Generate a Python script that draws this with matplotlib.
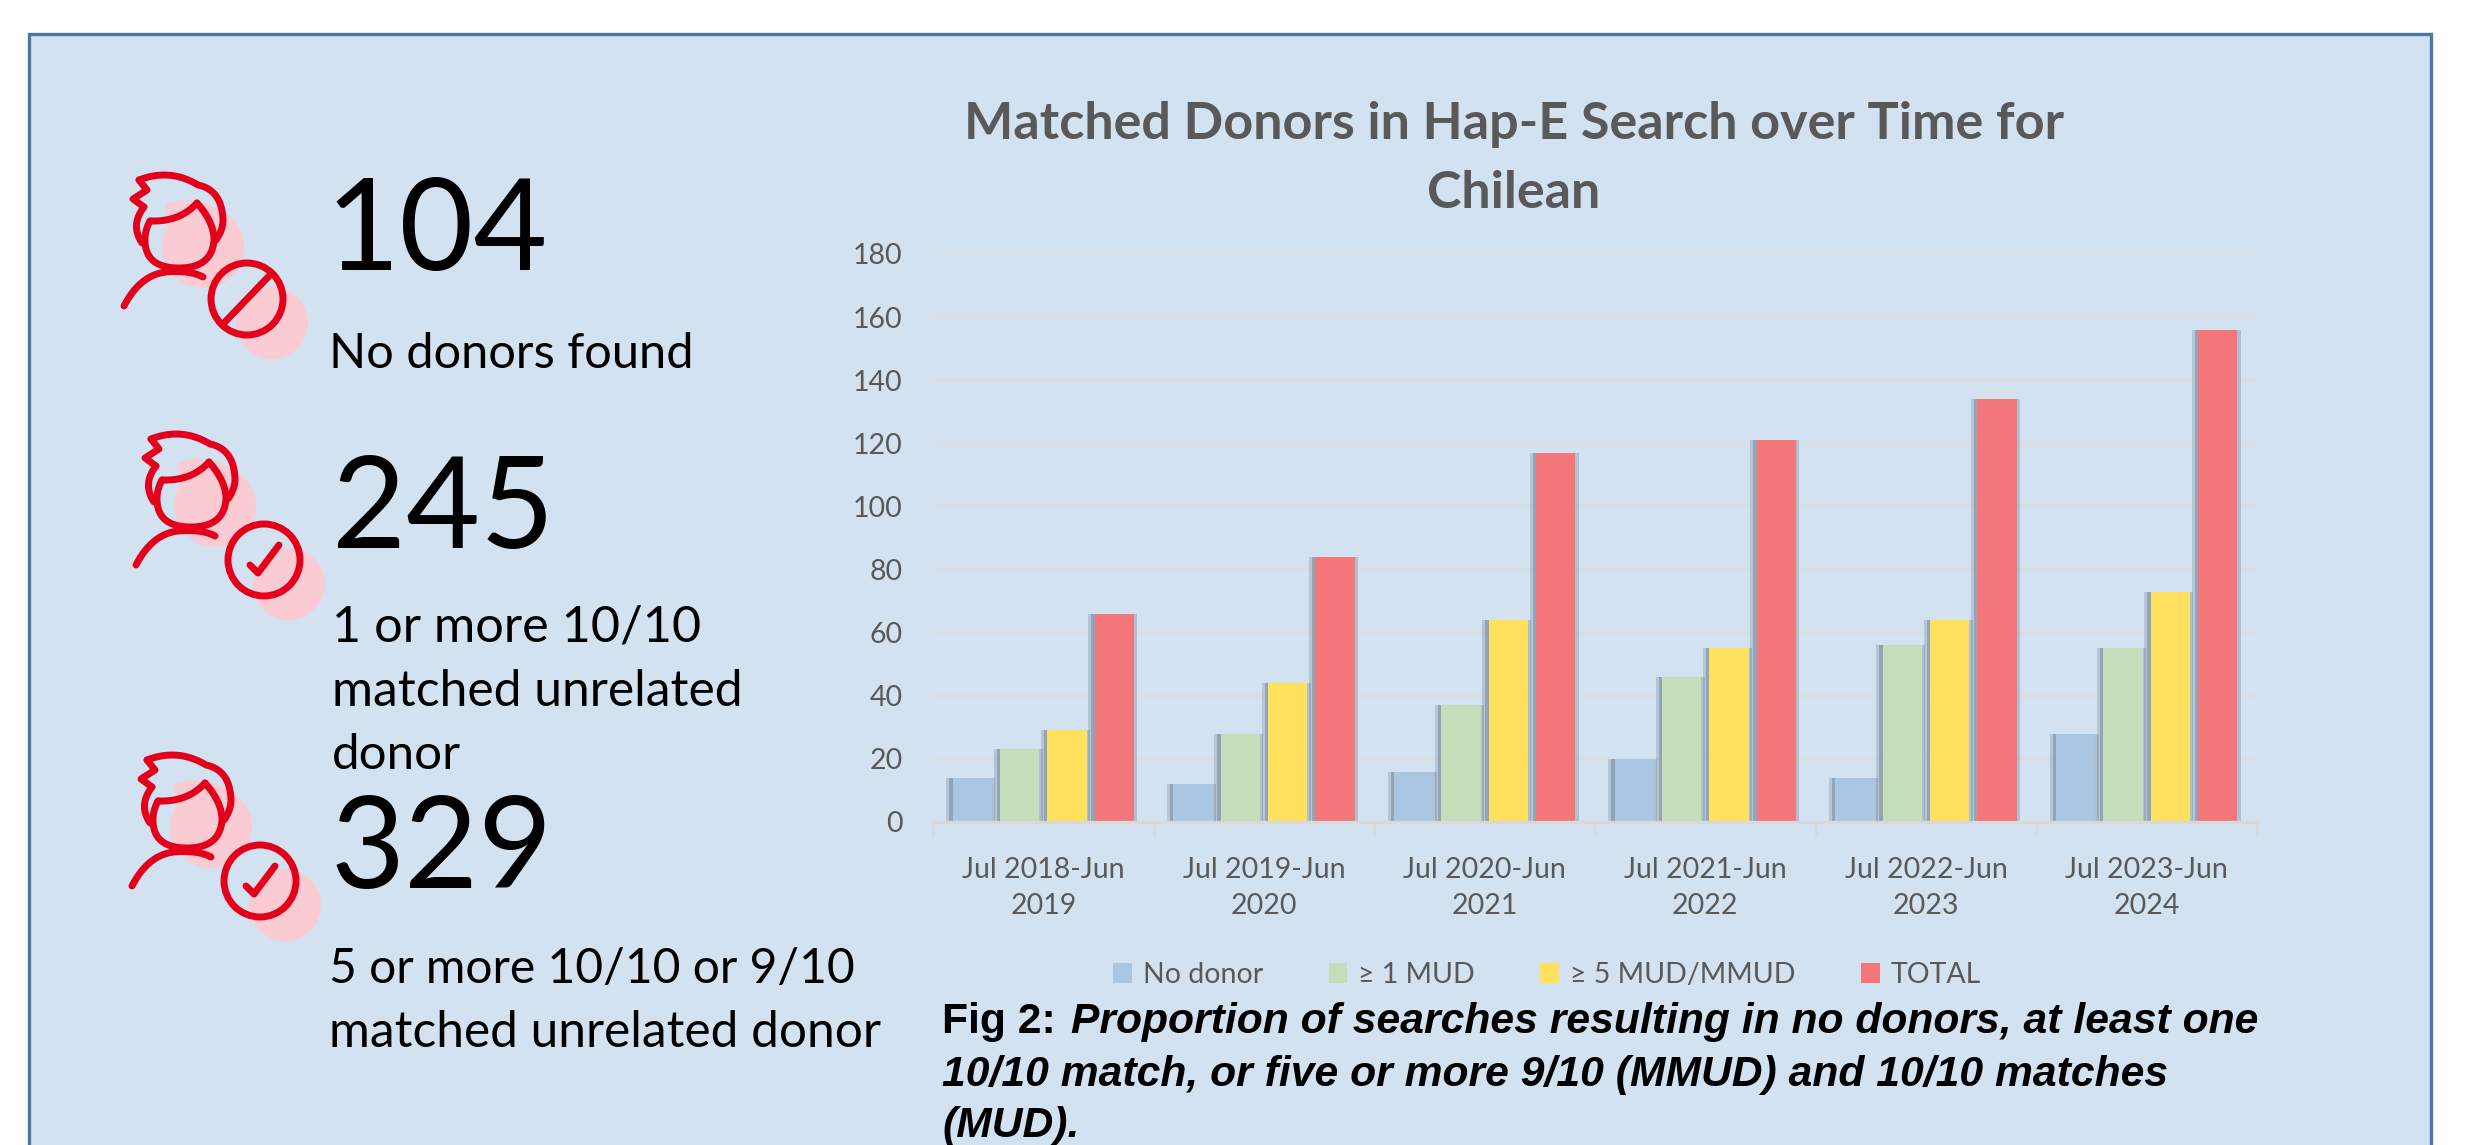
import matplotlib
matplotlib.use("Agg")
import matplotlib.pyplot as plt
import matplotlib.patheffects as pe
from matplotlib.patches import Circle, Rectangle, Polygon
import numpy as np

W, H = 2474, 1145

# ---- data ----
categories = ["Jul 2018-Jun\n2019", "Jul 2019-Jun\n2020", "Jul 2020-Jun\n2021",
              "Jul 2021-Jun\n2022", "Jul 2022-Jun\n2023", "Jul 2023-Jun\n2024"]
no_donor = [14, 12, 16, 20, 14, 28]
one_mud = [23, 28, 37, 46, 56, 55]
five_mud = [29, 44, 64, 55, 64, 73]
total = [66, 84, 117, 121, 134, 156]
series_names = ["No donor", "\u2265 1 MUD", "\u2265 5 MUD/MMUD", "TOTAL"]
series_colors = ["#A9C6E3", "#C4DEBA", "#FFE15D", "#F3767B"]
yticks = list(range(0, 181, 20))

BG = "#D3E2F1"
RED = "#E3001B"
PINK = "#FACBD2"
GREY = "#595959"
FONT = "Lato"

fig = plt.figure(figsize=(W / 100, H / 100), dpi=100, facecolor="white")

ov = fig.add_axes([0, 0, 1, 1], zorder=0)
ov.set_xlim(0, W)
ov.set_ylim(H, 0)
ov.axis("off")
ov.add_patch(Rectangle((29, 34), 2402, 1200, fc=BG, ec="#4A76A8", lw=2.4))

LW = 5.0


def stroke(ax, pts):
    xs, ys = zip(*pts)
    ax.plot(xs, ys, color=RED, lw=LW, solid_capstyle="round", solid_joinstyle="round", zorder=5)


def curve(p0, c, p1, n=24):
    t = np.linspace(0, 1, n)[:, None]
    p0, c, p1 = map(np.array, (p0, c, p1))
    return [tuple(v) for v in (1 - t) ** 2 * p0 + 2 * t * (1 - t) * c + t ** 2 * p1]


def icon(ax, dx, dy, bx, by, kind):
    def T(pts):
        return [(x + dx, y + dy) for x, y in pts]
    ax.add_patch(Circle((203 + dx, 247 + dy), 41, fc=PINK, ec="none", zorder=2))
    ax.add_patch(Polygon(T([(165, 204), (183, 200), (207, 203), (223, 213), (203, 230), (170, 227)]),
                         fc=PINK, ec="none", zorder=2))
    ax.add_patch(Circle((272 + bx, 323 + by), 36, fc=PINK, ec="none", zorder=2))
    hair = curve((139, 180), (170, 168), (198, 185))
    hair += curve((198, 185), (222, 190), (223, 220))[1:]
    hair += curve((223, 220), (223, 230), (216, 240))[1:]
    stroke(ax, T(hair))
    stroke(ax, T([(139, 180), (147, 190), (133, 199), (144, 207)]))
    stroke(ax, T(curve((144, 207), (130, 225), (142, 243))))
    stroke(ax, T(curve((150, 221), (180, 222), (197, 203))))
    face = curve((197, 203), (214, 222), (214, 240))
    face += curve((214, 240), (212, 268), (179, 268))[1:]
    face += curve((179, 268), (145, 268), (145, 240))[1:]
    face += curve((145, 240), (145, 230), (150, 221))[1:]
    stroke(ax, T(face))
    stroke(ax, T(curve((124, 306), (140, 275), (166, 272)) + curve((166, 272), (190, 270), (203, 277))[1:]))
    cx, cy = 247 + bx, 299 + by
    ax.add_patch(Circle((cx, cy), 36, fc="none", ec=RED, lw=LW, zorder=6))
    if kind == "no":
        stroke(ax, [(cx - 24, cy + 25), (cx + 24, cy - 25)])
    else:
        stroke(ax, [(cx - 14, cy + 5), (cx - 6, cy + 13), (cx + 15, cy - 15)])


icon(ov, 0, 0, 0, 0, "no")
icon(ov, 12, 259, 17, 261, "check")
icon(ov, 8, 580, 13, 582, "check")

BIG = 92
ov.text(326, 234, "104", fontsize=BIG, family=FONT, color="black", va="center", ha="left")
ov.text(329, 354, "No donors found", fontsize=35.1, family=FONT, color="black", va="center")
ov.text(332, 512, "245", fontsize=BIG, family=FONT, color="black", va="center", ha="left")
ov.text(332, 628, "1 or more 10/10", fontsize=36.3, family=FONT, color="black", va="center")
ov.text(332, 692, "matched unrelated", fontsize=35.8, family=FONT, color="black", va="center")
ov.text(332, 755, "donor", fontsize=35.5, family=FONT, color="black", va="center")
ov.text(331, 852, "329", fontsize=BIG, family=FONT, color="black", va="center", ha="left")
ov.text(329, 969, "5 or more 10/10 or 9/10", fontsize=34.6, family=FONT, color="black", va="center")
ov.text(329, 1033, "matched unrelated donor", fontsize=35.7, family=FONT, color="black", va="center")

ov.text(1514, 125, "Matched Donors in Hap-E Search over Time for", fontsize=37.5, family=FONT,
        weight="bold", color=GREY, ha="center", va="center")
ov.text(1514, 193, "Chilean", fontsize=37.5, family=FONT, weight="bold", color=GREY, ha="center", va="center")

cap_kw = dict(fontsize=30.7, family="Liberation Sans", weight="bold", color="black", va="center")
ov.text(942, 1022, "Fig 2: ", **cap_kw)
ov.text(1071, 1022, "Proportion of searches resulting in no donors, at least one", style="italic", **cap_kw)
ov.text(942, 1075, "10/10 match, or five or more 9/10 (MMUD) and 10/10 matches", style="italic", **cap_kw)
ov.text(942, 1126, "(MUD).", style="italic", **cap_kw)

# ---- bar chart ----
L, R, T, B = 933, 2257, 254, 822
ax = fig.add_axes([L / W, 1 - B / H, (R - L) / W, (B - T) / H], zorder=1)
ax.patch.set_alpha(0)
x = np.arange(len(categories))
bw = 0.1775
step = 0.2145
shadow = [pe.SimplePatchShadow(offset=(-4.5, 0), shadow_rgbFace="#5F7388", alpha=0.25),
          pe.SimplePatchShadow(offset=(-2.5, 0), shadow_rgbFace="#5F7388", alpha=0.40),
          pe.SimplePatchShadow(offset=(2.5, 0), shadow_rgbFace="#5F7388", alpha=0.30),
          pe.Normal()]
handles = []
for i, (vals, name, col) in enumerate(zip((no_donor, one_mud, five_mud, total), series_names, series_colors)):
    bars = ax.bar(x + (i - 1.5) * step, vals, width=bw, color=col, label=name, zorder=3)
    for b in bars:
        b.set_path_effects(shadow)
    handles.append(Rectangle((0, 0), 1, 1, fc=col, ec="none"))
ax.set_xlim(-0.5, 5.5)
ax.set_ylim(0, 180)
ax.set_yticks(yticks)
ax.set_xticks(x)
ax.set_xticklabels(categories, family=FONT, fontsize=20.5, color=GREY, linespacing=1.47)
ax.tick_params(axis="y", length=0, labelsize=20.5, labelcolor=GREY, pad=22)
for lab in ax.get_yticklabels():
    lab.set_family(FONT)
ax.tick_params(axis="x", length=0, pad=25)
ax.grid(axis="y", color="#DCDDDF", lw=1.6, zorder=1)
ax.set_axisbelow(True)
for s in ("top", "right", "left"):
    ax.spines[s].set_visible(False)
ax.spines["bottom"].set_color("#D9D9D9")
ax.spines["bottom"].set_linewidth(2.4)
ax.spines["bottom"].set_zorder(4)
for edge in np.arange(-0.5, 5.51, 1):
    ax.plot([edge, edge], [0, -4], color="#D9D9D9", lw=1.8, clip_on=False, zorder=2)

fig.legend(handles, series_names, loc="center", bbox_to_anchor=(1547 / W, 1 - 975 / H), ncol=4, frameon=False,
           prop={"family": FONT, "size": 20.5}, labelcolor=GREY, handlelength=0.65,
           handleheight=0.65, columnspacing=2.31, handletextpad=0.38)

fig.savefig("out.png", dpi=100)
